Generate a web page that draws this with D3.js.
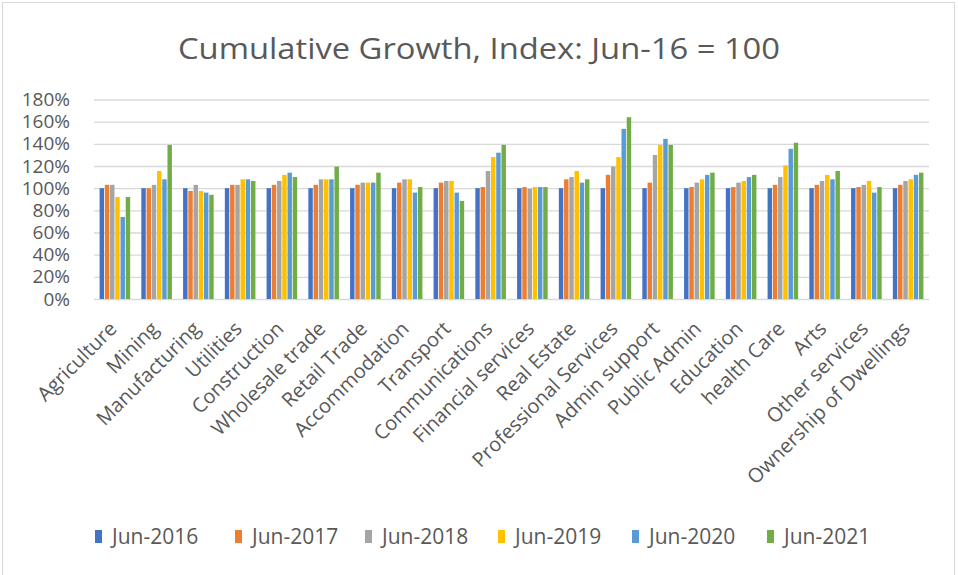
<!DOCTYPE html>
<html>
<head>
<meta charset="utf-8">
<script src="https://cdn.jsdelivr.net/npm/d3@7"></script>
<style>
  body { margin: 0; background: #fff; }
  text { font-family: "Open Sans", sans-serif; fill: #595959; }
</style>
</head>
<body>
<div id="chart"></div>
<script>
const categories = [
  "Agriculture", "Mining", "Manufacturing", "Utilities", "Construction",
  "Wholesale trade", "Retail Trade", "Accommodation", "Transport", "Communications",
  "Financial services", "Real Estate", "Professional Services", "Admin support",
  "Public Admin", "Education", "health Care", "Arts", "Other services",
  "Ownership of Dwellings"
];

const seriesNames = ["Jun-2016", "Jun-2017", "Jun-2018", "Jun-2019", "Jun-2020", "Jun-2021"];
const colors = ["#4472C4", "#ED7D31", "#A5A5A5", "#FFC000", "#5B9BD5", "#70AD47"];

const jun2016 = [1, 1, 1, 1, 1, 1, 1, 1, 1, 1, 1, 1, 1, 1, 1, 1, 1, 1, 1, 1];
const jun2017 = [1.03, 1.0, 0.975, 1.03, 1.03, 1.03, 1.03, 1.05, 1.05, 1.01, 1.01, 1.08, 1.12, 1.05, 1.01, 1.01, 1.03, 1.03, 1.01, 1.03];
const jun2018 = [1.03, 1.03, 1.03, 1.03, 1.065, 1.08, 1.05, 1.08, 1.065, 1.155, 0.995, 1.10, 1.195, 1.30, 1.05, 1.05, 1.10, 1.065, 1.03, 1.065];
const jun2019 = [0.92, 1.155, 0.975, 1.08, 1.12, 1.08, 1.05, 1.08, 1.065, 1.28, 1.01, 1.155, 1.28, 1.39, 1.08, 1.065, 1.205, 1.12, 1.065, 1.08];
const jun2020 = [0.74, 1.08, 0.96, 1.08, 1.14, 1.08, 1.05, 0.96, 0.96, 1.32, 1.01, 1.05, 1.535, 1.445, 1.12, 1.10, 1.355, 1.08, 0.96, 1.12];
const jun2021 = [0.92, 1.39, 0.94, 1.065, 1.10, 1.195, 1.14, 1.01, 0.885, 1.39, 1.01, 1.08, 1.64, 1.39, 1.14, 1.12, 1.41, 1.155, 1.01, 1.14];

const yTicks = [0, 0.2, 0.4, 0.6, 0.8, 1.0, 1.2, 1.4, 1.6, 1.8];

const allSeries = [jun2016, jun2017, jun2018, jun2019, jun2020, jun2021];

const width = 958;
const height = 575;
const plot = { left: 94, right: 929, top: 99.5, bottom: 299 };

const svg = d3
  .select("#chart")
  .append("svg")
  .attr("width", width)
  .attr("height", height);

// outer chart border
svg.append("rect")
  .attr("x", 2.5)
  .attr("y", 2.5)
  .attr("width", 952)
  .attr("height", 590)
  .attr("fill", "none")
  .attr("stroke", "#d9d9d9");

svg.append("text")
  .attr("x", 479)
  .attr("y", 59)
  .attr("text-anchor", "middle")
  .attr("textLength", 602)
  .attr("lengthAdjust", "spacingAndGlyphs")
  .style("font-size", "30px")
  .text("Cumulative Growth, Index: Jun-16 = 100");

const x0 = d3
  .scaleBand()
  .domain(categories)
  .range([plot.left, plot.right])
  .paddingInner(0.23)
  .paddingOuter(0.115);

const x1 = d3
  .scaleBand()
  .domain(d3.range(seriesNames.length))
  .range([0, x0.bandwidth()])
  .padding(0.15);

const y = d3
  .scaleLinear()
  .domain([0, 1.8])
  .range([plot.bottom, plot.top]);

// gridlines + y labels
const yAxis = d3
  .axisLeft(y)
  .tickValues(yTicks)
  .tickFormat(d3.format(".0%"))
  .tickSize(-(plot.right - plot.left))
  .tickPadding(24);

const yG = svg.append("g")
  .attr("transform", `translate(${plot.left},0)`)
  .call(yAxis);
yG.select(".domain").remove();
yG.selectAll(".tick line").attr("stroke", "#d9d9d9").attr("stroke-width", 1.3);
yG.selectAll(".tick text")
  .style("font-size", "19px")
  .style("font-family", "'Open Sans', sans-serif")
  .attr("fill", "#595959");

// bars
const groups = svg.append("g")
  .selectAll("g")
  .data(categories)
  .enter()
  .append("g")
  .attr("transform", (d) => `translate(${x0(d)},0)`);

groups.selectAll("rect")
  .data((d, i) => allSeries.map((s, k) => ({ k: k, v: s[i] })))
  .enter()
  .append("rect")
  .attr("x", (d) => x1(d.k))
  .attr("width", x1.bandwidth())
  .attr("y", (d) => y(d.v))
  .attr("height", (d) => y(0) - y(d.v))
  .attr("fill", (d) => colors[d.k]);

// x labels
const xAxis = d3.axisBottom(x0).tickSize(0).tickPadding(0);
const xG = svg.append("g")
  .attr("transform", `translate(0,${plot.bottom})`)
  .call(xAxis);
xG.select(".domain").remove();
xG.selectAll(".tick text")
  .style("font-size", "20px")
  .style("font-family", "'Open Sans', sans-serif")
  .attr("fill", "#595959")
  .attr("text-anchor", "end")
  .attr("dy", null)
  .attr("y", 0)
  .attr("transform", "translate(3,31) rotate(-45)");

// legend
const legendX = [95, 235, 365, 498, 632, 767];
const legend = svg.append("g")
  .selectAll("g")
  .data(seriesNames)
  .enter()
  .append("g")
  .attr("transform", (d, i) => `translate(${legendX[i]},530)`);

legend.append("rect")
  .attr("width", 7)
  .attr("height", 13)
  .attr("fill", (d, i) => colors[i]);

legend.append("text")
  .attr("x", 17)
  .attr("y", 14)
  .style("font-size", "21px")
  .text((d) => d);
</script>
</body>
</html>
